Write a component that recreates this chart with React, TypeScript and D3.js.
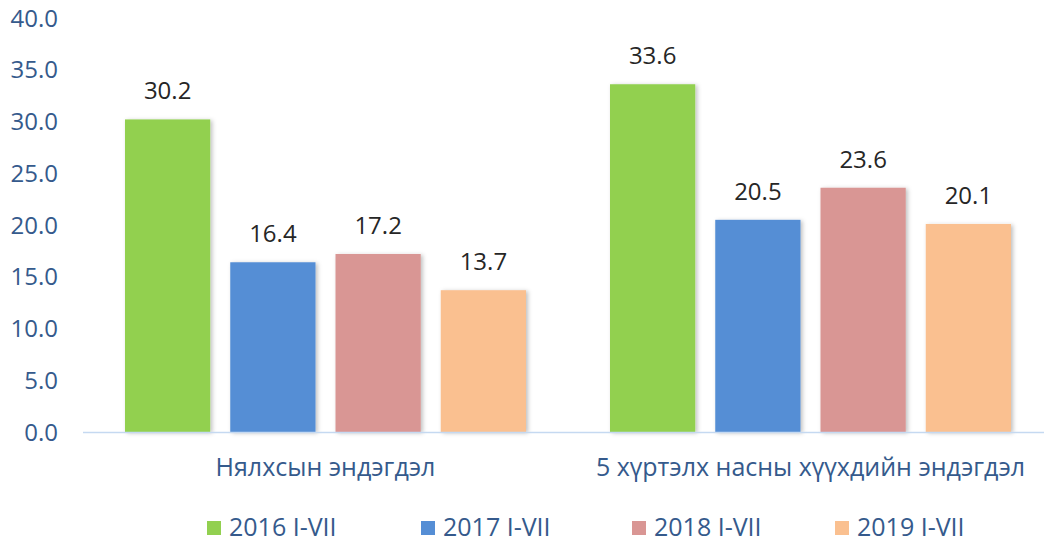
import React from "react";
import * as d3 from "d3";

const categories = ["Нялхсын эндэгдэл", "5 хүртэлх насны хүүхдийн эндэгдэл"];
const seriesNames = ["2016 I-VII", "2017 I-VII", "2018 I-VII", "2019 I-VII"];
const values2016 = [30.2, 33.6];
const values2017 = [16.4, 20.5];
const values2018 = [17.2, 23.6];
const values2019 = [13.7, 20.1];
const seriesColors = ["#92D050", "#558ED5", "#D99694", "#FAC090"];
const yTicks = [0, 5, 10, 15, 20, 25, 30, 35, 40];

const W = 1044;
const H = 544;
const FONT = "'Open Sans', 'Noto Sans', sans-serif";
const AXIS_COLOR = "#355A8C";

export default function App() {
  const seriesValues = [values2016, values2017, values2018, values2019];
  const y = d3.scaleLinear().domain([0, 40]).range([432, 18]);
  const x0 = d3.scaleBand<string>().domain(categories).range([83, 1053]).paddingInner(0).paddingOuter(0);
  const bw = x0.bandwidth();
  const x1 = d3
    .scaleBand<string>()
    .domain(seriesNames)
    .range([42, bw - 42])
    .paddingInner(0.19)
    .paddingOuter(0);

  const legendX = [207, 421, 632, 835];

  return (
    <svg width={W} height={H} style={{ display: "block", position: "absolute", left: 0, top: 0 }}>
      <defs>
        <filter id="shadow" x="-10%" y="-10%" width="130%" height="120%">
          <feDropShadow dx="2" dy="1" stdDeviation="2" floodColor="#000" floodOpacity="0.25" />
        </filter>
      </defs>
      <rect width={W} height={H} fill="#fff" />
      {yTicks.map((t) => (
        <text
          key={t}
          x={58}
          y={y(t)}
          dy="0.36em"
          textAnchor="end"
          fontFamily={FONT}
          fontSize={24}
          fill={AXIS_COLOR}
        >
          {t.toFixed(1)}
        </text>
      ))}
      {categories.map((c, ci) => (
        <g key={c} transform={`translate(${x0(c)},0)`}>
          {seriesNames.map((s, si) => {
            const v = seriesValues[si][ci];
            const bx = x1(s)!;
            return (
              <g key={s}>
                <rect
                  x={bx}
                  y={y(v)}
                  width={x1.bandwidth()}
                  height={y(0) - y(v)}
                  fill={seriesColors[si]}
                  filter="url(#shadow)"
                />
                <text
                  x={bx + x1.bandwidth() / 2}
                  y={y(v) - 20}
                  textAnchor="middle"
                  fontFamily={FONT}
                  fontSize={24}
                  fill="#262626"
                >
                  {v.toFixed(1)}
                </text>
              </g>
            );
          })}
          <text
            x={bw / 2}
            y={476}
            textAnchor="middle"
            fontFamily={FONT}
            fontSize={25}
            fill={AXIS_COLOR}
          >
            {c}
          </text>
        </g>
      ))}
      <line x1={83} x2={W} y1={y(0) + 0.5} y2={y(0) + 0.5} stroke="#C5D9F1" strokeWidth={1.5} />
      {seriesNames.map((s, i) => (
        <g key={s}>
          <rect x={legendX[i]} y={521} width={14} height={14} fill={seriesColors[i]} />
          <text x={legendX[i] + 22} y={536} fontFamily={FONT} fontSize={25} fill={AXIS_COLOR}>
            {s}
          </text>
        </g>
      ))}
    </svg>
  );
}
